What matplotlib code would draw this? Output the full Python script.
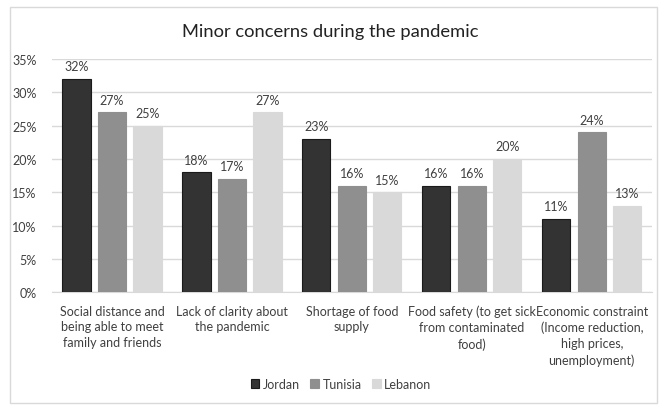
import matplotlib.pyplot as plt
import numpy as np
from matplotlib.patches import Rectangle

# =========================
# DATA
# =========================

categories = [
    'Social distance and\nbeing able to meet\nfamily and friends',
    'Lack of clarity about\nthe pandemic',
    'Shortage of food\nsupply',
    'Food safety (to get sick\nfrom contaminated\nfood)',
    'Economic constraint\n(Income reduction,\nhigh prices,\nunemployment)',
]

jordan = [32, 18, 23, 16, 11]
tunisia = [27, 17, 16, 16, 24]
lebanon = [25, 27, 15, 20, 13]

series_names = ['Jordan', 'Tunisia', 'Lebanon']
series_colors = ['#333333', '#8f8f8f', '#d9d9d9']

plt.rcParams['font.family'] = ['Lato', 'DejaVu Sans']

fig = plt.figure(figsize=(6.61, 4.06), dpi=100)

ax = fig.add_axes([0.0787, 0.278, 0.9073, 0.574])

x = np.arange(len(categories))
width = 0.235
step = 0.296

for i, (vals, name, col) in enumerate(zip([jordan, tunisia, lebanon], series_names, series_colors)):
    pos = x + (i - 1) * step
    ax.bar(pos, vals, width, color=col, label=name,
           edgecolor='#1a1a1a' if i == 0 else col, linewidth=0.8, zorder=3)
    for p, v in zip(pos, vals):
        ax.text(p, v + 1.0, f'{v}%', ha='center', va='bottom',
                fontsize=9, color='#404040')

ax.set_xlim(-0.5, len(categories) - 0.5)
ax.set_ylim(0, 35)
ax.set_yticks(range(0, 36, 5))
ax.set_yticklabels([f'{t}%' for t in range(0, 36, 5)], fontsize=9, color='#404040')
ax.set_xticks(x)
ax.set_xticklabels(categories, fontsize=9, color='#404040', linespacing=1.38, va='top')
ax.tick_params(axis='both', length=0)
ax.tick_params(axis='x', pad=9)
ax.tick_params(axis='y', pad=11)

ax.grid(axis='y', color='#d9d9d9', linewidth=1, zorder=0)
for s in ['top', 'right', 'left']:
    ax.spines[s].set_visible(False)
ax.spines['bottom'].set_color('#d9d9d9')

fig.text(0.5, 1 - 32 / 406, 'Minor concerns during the pandemic',
         ha='center', va='center', fontsize=13.2, color='#222222')

fig.legend(loc='center', bbox_to_anchor=(341 / 661, 1 - 385 / 406), ncol=3,
           frameon=False, fontsize=9, handlelength=0.7, handleheight=0.7,
           handletextpad=0.3, columnspacing=0.8, labelcolor='#404040')

fig.patches.append(Rectangle((10 / 661, 2 / 406), 647 / 661, 396 / 406,
                             transform=fig.transFigure, fill=False,
                             edgecolor='#d9d9d9', linewidth=1))

fig.savefig('out.png', dpi=100)
